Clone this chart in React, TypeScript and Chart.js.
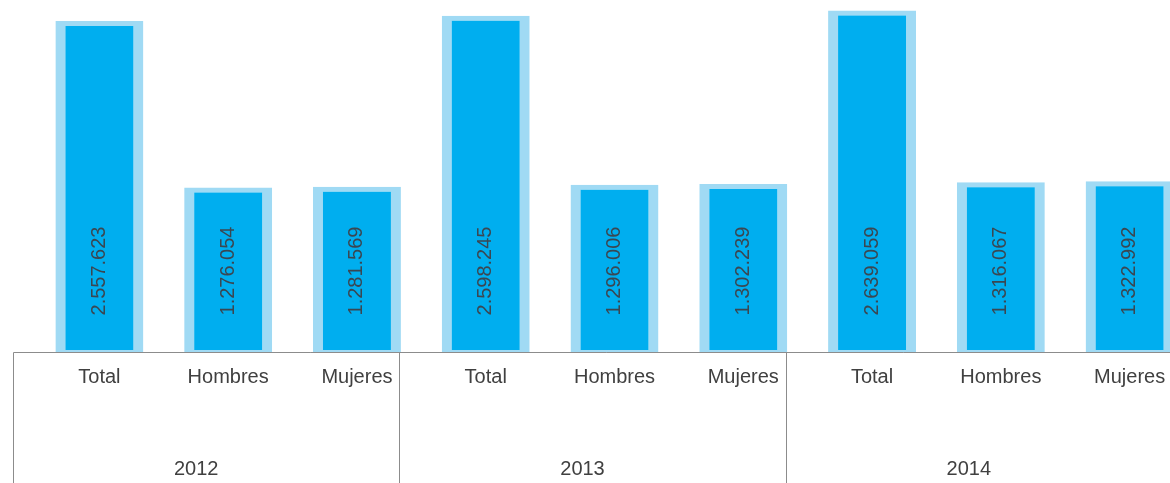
import React, { useEffect, useRef } from 'react';
import { Chart, registerables } from 'chart.js';

Chart.register(...registerables);

const categories = ['Total', 'Hombres', 'Mujeres', 'Total', 'Hombres', 'Mujeres', 'Total', 'Hombres', 'Mujeres'];
const years = ['2012', '2013', '2014'];
const values = [2557623, 1276054, 1281569, 2598245, 1296006, 1302239, 2639059, 1316067, 1322992];
const yMax = 2720000;

const FONT = '"Liberation Sans", Arial, sans-serif';

function fmt(n: number): string {
  return String(n).replace(/\B(?=(\d{3})+(?!\d))/g, '.');
}

const overlay = {
  id: 'overlay',
  afterDatasetsDraw(chart: any) {
    const { ctx, scales } = chart;
    const x = scales.x;
    const y = scales.y;
    const base = y.getPixelForValue(0);
    const step = x.getPixelForValue(1) - x.getPixelForValue(0);
    ctx.save();

    // value labels inside bars (rotated)
    ctx.font = `20px ${FONT}`;
    ctx.fillStyle = '#3a4752';
    ctx.textAlign = 'center';
    ctx.textBaseline = 'middle';
    values.forEach((v, i) => {
      const cx = x.getPixelForValue(i);
      ctx.save();
      ctx.translate(cx, base - 82);
      ctx.rotate(-Math.PI / 2);
      ctx.fillText(fmt(v), 0, 0);
      ctx.restore();
    });

    // axis line and group separators
    ctx.strokeStyle = '#8c8c8c';
    ctx.lineWidth = 1;
    const seps: number[] = [];
    for (let g = 0; g <= years.length; g++) {
      seps.push(Math.round(x.getPixelForValue(g * 3) - step / 2 - 22) + 0.5);
    }
    const by = Math.round(base) - 0.5;
    ctx.beginPath();
    ctx.moveTo(seps[0], by);
    ctx.lineTo(chart.width, by);
    seps.forEach((sx) => {
      ctx.moveTo(sx, by);
      ctx.lineTo(sx, chart.height);
    });
    ctx.stroke();

    // category labels
    ctx.fillStyle = '#404040';
    ctx.font = `20px ${FONT}`;
    categories.forEach((c, i) => {
      ctx.fillText(c, x.getPixelForValue(i), base + 24);
    });

    // year labels
    years.forEach((yr, g) => {
      ctx.fillText(yr, x.getPixelForValue(g * 3 + 1) - 32, base + 116);
    });

    ctx.restore();
  },
};

export default function App() {
  const ref = useRef<HTMLCanvasElement | null>(null);

  useEffect(() => {
    if (!ref.current) return;
    const chart = new Chart(ref.current, {
      type: 'bar',
      data: {
        labels: categories,
        datasets: [
          {
            data: values,
            backgroundColor: '#00aeef',
            borderColor: '#a0daf4',
            borderWidth: { top: 5, left: 10, right: 10, bottom: 3 } as any,
            borderSkipped: false,
            barPercentage: 0.683,
            categoryPercentage: 1,
          },
        ],
      },
      options: {
        animation: false,
        responsive: true,
        maintainAspectRatio: false,
        layout: { padding: { left: 35, right: 6, top: 0, bottom: 130 } },
        plugins: { legend: { display: false }, tooltip: { enabled: false } },
        scales: {
          x: { display: false },
          y: { display: false, min: 0, max: yMax },
        },
      },
      plugins: [overlay],
    });
    return () => chart.destroy();
  }, []);

  return (
    <div style={{ position: 'fixed', left: 0, top: 0, width: 1170, height: 483, overflow: 'hidden', background: '#fff' }}>
      <div style={{ position: 'relative', width: 1200, height: 483 }}>
        <canvas ref={ref} />
      </div>
    </div>
  );
}
